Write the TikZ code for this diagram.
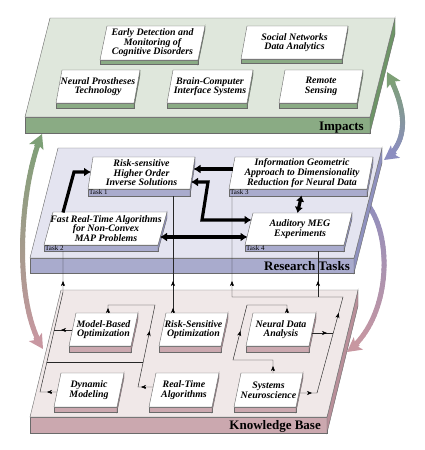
\documentclass[tikz,border=0pt]{standalone}
\usepackage{fontspec}
\setmainfont{Liberation Serif}
\usetikzlibrary{arrows.meta,calc}
\definecolor{impTop}{HTML}{DFE7DC}
\definecolor{impFront}{HTML}{8AAB84}
\definecolor{impSide}{HTML}{6E9567}
\definecolor{resTop}{HTML}{E4E4F0}
\definecolor{resFront}{HTML}{A9ABCD}
\definecolor{resSide}{HTML}{8F91BE}
\definecolor{kbTop}{HTML}{F0E8E8}
\definecolor{kbFront}{HTML}{CBA8AF}
\definecolor{kbSide}{HTML}{B88F99}
\definecolor{arcGreen}{HTML}{7DA076}
\definecolor{arcBlue}{HTML}{8C8EC0}
\definecolor{arcPink}{HTML}{C897A1}
\definecolor{edgecol}{HTML}{6A6A6A}

% prism: x y w h dx t topcol frontcol sidecol
\newcommand\prism[9]{%
  \filldraw[fill=#8, draw=edgecol, line width=0.4pt] (#1-#5,#2+#4) -- (#1+#3-#5,#2+#4) -- (#1+#3-#5,#2+#4+#6) -- (#1-#5,#2+#4+#6) -- cycle;
  \filldraw[fill=#9, draw=edgecol, line width=0.4pt] (#1+#3-#5,#2+#4) -- (#1+#3,#2) -- (#1+#3,#2+#6) -- (#1+#3-#5,#2+#4+#6) -- cycle;
  \filldraw[fill=#7, draw=edgecol, line width=0.4pt] (#1,#2) -- (#1+#3,#2) -- (#1+#3-#5,#2+#4) -- (#1-#5,#2+#4) -- cycle;
}

\newcommand\gradcurve[4]{%
  \foreach \i in {0,...,35}{%
    \pgfmathsetmacro\ta{#3+(#4-#3)*\i/36}%
    \pgfmathsetmacro\tb{#3+(#4-#3)*(\i+1)/36}%
    \pgfmathsetmacro\pc{100-100*(\i+0.5)/36}%
    \colorlet{segcol}{#1!\pc!#2}%
    \begin{pgfscope}
      \pgfsetlinewidth{5pt}\pgfsetroundcap\pgfsetstrokecolor{segcol}%
      \pgfpathcurvebetweentime{\ta}{\tb}{\Pa}{\Pb}{\Pc}{\Pd}%
      \pgfusepath{stroke}%
    \end{pgfscope}
  }%
}

\newcommand\tip[3]{\draw[tipline] (#1,#2) ++(#3:-4.5) -- ++(#3:4.5);}

\tikzset{
  boxtext/.style={font=\fontsize{9.9}{9.6}\selectfont\bfseries\itshape, align=center, inner sep=0pt},
  platelabel/.style={font=\fontsize{13}{14}\selectfont\bfseries, anchor=base east, inner sep=0pt},
  tasklabel/.style={font=\fontsize{7}{7}\selectfont, anchor=base west, inner sep=0pt},
  wire/.style={line width=0.45pt, draw=black!85},
  tipline/.style={line width=0.45pt, draw=black, -{Stealth[length=5pt,width=4pt,inset=1.5pt]}},
  bigtip/.style={line width=5pt, -{Stealth[length=14pt,width=15pt,inset=3pt]}},
  bold/.style={line width=3.2pt, draw=black},
  btip/.style={-{Latex[length=7pt,width=9pt]}},
  bbtip/.style={{Latex[length=7pt,width=9pt]}-{Latex[length=7pt,width=9pt]}},
}

\begin{document}
\begin{tikzpicture}[x=1pt,y=-1pt]
\useasboundingbox (0,0) rectangle (425,450);
\fill[white] (0,0) rectangle (425,450);

% ---------- curved arrows ----------
% left: Impacts <-> Knowledge Base
\coordinate (la0) at (42,134); \coordinate (la1) at (20,185);
\coordinate (la2) at (12,300); \coordinate (la3) at (43,349);
\def\Pa{\pgfpointxy{42}{134}}\def\Pb{\pgfpointxy{20}{185}}%
\def\Pc{\pgfpointxy{12}{300}}\def\Pd{\pgfpointxy{43}{349}}%
\gradcurve{arcGreen}{arcPink}{0.05}{0.95}
\draw[bigtip, arcGreen] ($(la0)!14pt!(la1)$) -- (la0);
\draw[bigtip, arcPink] ($(la3)!14pt!(la2)$) -- (la3);

% right upper: Impacts <-> Research
\coordinate (ra0) at (387,72); \coordinate (ra1) at (402,100);
\coordinate (ra2) at (414,138); \coordinate (ra3) at (384,160);
\def\Pa{\pgfpointxy{387}{72}}\def\Pb{\pgfpointxy{402}{100}}%
\def\Pc{\pgfpointxy{414}{138}}\def\Pd{\pgfpointxy{384}{160}}%
\gradcurve{arcGreen}{arcBlue}{0.09}{0.91}
\draw[bigtip, arcGreen] ($(ra0)!14pt!(ra1)$) -- (ra0);
\draw[bigtip, arcBlue] ($(ra3)!14pt!(ra2)$) -- (ra3);

% right lower: Research -> Knowledge Base
\coordinate (rb0) at (364,200); \coordinate (rb1) at (394,232);
\coordinate (rb2) at (392,318); \coordinate (rb3) at (347,352);
\def\Pa{\pgfpointxy{364}{200}}\def\Pb{\pgfpointxy{394}{232}}%
\def\Pc{\pgfpointxy{392}{318}}\def\Pd{\pgfpointxy{347}{352}}%
\gradcurve{arcBlue}{arcPink}{0}{0.94}
\draw[bigtip, arcPink] ($(rb3)!14pt!(rb2)$) -- (rb3);

% ---------- plates ----------
\prism{50}{18}{345}{99}{25}{16}{impTop}{impFront}{impSide}
\prism{58}{148}{324}{110}{28}{15}{resTop}{resFront}{resSide}
\prism{61}{290}{297}{127}{31}{16}{kbTop}{kbFront}{kbSide}

% ---------- Impacts boxes ----------
\prism{107}{26}{98}{34}{7}{4}{white}{impFront}{impSide}
\prism{247}{26}{101}{33}{6}{4}{white}{impFront}{impSide}
\prism{62}{70}{78}{33}{6}{5}{white}{impFront}{impSide}
\prism{173}{70}{80}{33}{6}{5}{white}{impFront}{impSide}
\prism{285}{70}{78}{33}{6}{5}{white}{impFront}{impSide}

% ---------- Research boxes ----------
\prism{93}{157}{102}{32}{5}{7}{white}{resFront}{resSide}
\prism{235}{157}{138}{32}{6}{7}{white}{resFront}{resSide}
\prism{53}{212}{114}{33}{9}{6}{white}{resFront}{resSide}
\prism{253}{213}{99}{32}{8}{6}{white}{resFront}{resSide}

% ---------- Knowledge base boxes ----------
\prism{76}{313}{62}{33}{7}{6}{white}{kbFront}{kbSide}
\prism{166}{313}{62}{33}{7}{6}{white}{kbFront}{kbSide}
\prism{253}{313}{63}{33}{7}{6}{white}{kbFront}{kbSide}
\prism{61}{373}{63}{34}{7}{5}{white}{kbFront}{kbSide}
\prism{156}{373}{63}{34}{7}{5}{white}{kbFront}{kbSide}
\prism{241}{373}{62}{34}{7}{5}{white}{kbFront}{kbSide}

% ---------- text ----------
\node[boxtext] (ed)  at (152.5,43)  {Early Detection and\\Monitoring of\\Cognitive Disorders};
\node[boxtext] (sna) at (294.5,42.5){Social Networks\\Data Analytics};
\node[boxtext] (npt) at (98,86.5)   {Neural Prostheses\\Technology};
\node[boxtext] (bci) at (210,86.5)  {Brain-Computer\\Interface Systems};
\node[boxtext] (rse) at (321,86.5)  {Remote\\Sensing};

\node[boxtext] (t1) at (141.5,173) {Risk-sensitive\\Higher Order\\Inverse Solutions};
\node[boxtext] (t3) at (302,173)   {Information Geometric\\Approach to Dimensionality\\Reduction for Neural Data};
\node[boxtext] (t2) at (106,228.5) {Fast Real-Time Algorithms\\for Non-Convex\\MAP Problems};
\node[boxtext] (t4) at (300,229)   {Auditory MEG\\Experiments};

\node[tasklabel] (l1) at (89,194.8)  {Task 1};
\node[tasklabel] (l3) at (230,194.8) {Task 3};
\node[tasklabel] (l2) at (45,250)  {Task 2};
\node[tasklabel] (l4) at (246,250) {Task 4};

\node[boxtext] (mb) at (103.5,329.5) {Model-Based\\Optimization};
\node[boxtext] (rs) at (193.5,329.5) {Risk-Sensitive\\Optimization};
\node[boxtext] (nd) at (281,329.5)   {Neural Data\\Analysis};
\node[boxtext] (dm) at (89,390)      {Dynamic\\Modeling};
\node[boxtext] (rt) at (184,390)     {Real-Time\\Algorithms};
\node[boxtext] (sn) at (268.5,390)   {Systems\\Neuroscience};

\node[platelabel] (pimp) at (364,130)   {Impacts};
\node[platelabel] (pres) at (350,270)   {Research Tasks};
\node[platelabel] (pkb)  at (321,429.5) {Knowledge Base};

% ---------- thin wires ----------
\coordinate (w2top) at (63,251);
\coordinate (w1top) at (173,196);
\coordinate (w3top) at (232,196);
\coordinate (w4top) at (318,251);
\draw[wire] (w2top) -- (63,292) -- (40,392) -- (57,392);
\draw[wire] (54.3,330) -- (72.4,330);
\draw[wire] (46.9,362) -- (143.2,362);
\draw[wire] (153.1,387) -- (138,387) -- (155,305) -- (108,305) -- (108,313);
\draw[wire] (w1top) -- (173,313);
\draw[wire] (273,373) -- (273,360) -- (233,360) -- (247,305) -- (287,305) -- (287,313);
\draw[wire] (w3top) -- (232,297) -- (343,297) -- (317,393) -- (298.9,393);
\draw[wire] (w4top) -- (318,297);
\draw[wire] (311.8,333) -- (333.2,333);

\tip{63}{281}{-90}
\tip{173}{281}{-90}
\tip{232}{281}{-90}
\tip{318}{281}{-90}
\tip{108}{308}{-90}
\tip{173}{308}{-90}
\tip{287}{308}{-90}
\tip{61}{330}{180}
\tip{47}{392}{180}
\tip{141}{387}{180}
\tip{149.6}{331}{-78.3}
\tip{240.4}{331}{-75.7}
\tip{273}{366}{-90}
\tip{327}{333}{0}
\tip{312}{393}{0}
\tip{338.7}{313}{-74.8}

% ---------- bold arrows ----------
\draw[bold, btip] (63,212.5) -- (74,172) -- (91,172);
\draw[bold, btip] (233,169) -- (193.5,169);
\draw[bold, bbtip] (191,182) -- (208,182) -- (202,220) -- (251.5,220);
\draw[bold, bbtip] (160,237) -- (247.5,237);
\draw[bold, {Latex[length=6pt,width=8.5pt]}-{Latex[length=6pt,width=8.5pt]}] (301.5,195.5) -- (297.5,213);
\end{tikzpicture}
\end{document}
